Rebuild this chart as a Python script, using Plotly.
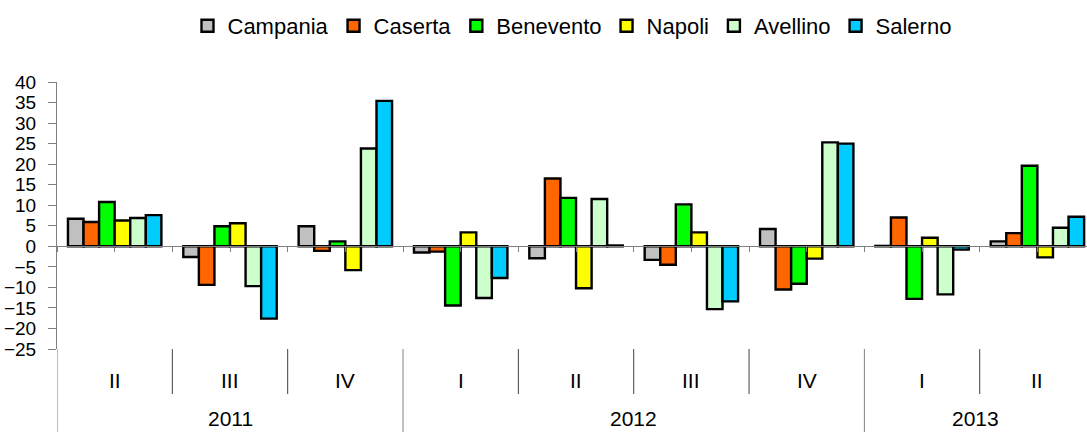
import plotly.graph_objects as go

# ---- data ----
quarters = ["II", "III", "IV", "I", "II", "III", "IV", "I", "II"]
years = ["2011", "2011", "2011", "2012", "2012", "2012", "2012", "2013", "2013"]

campania = [6.7, -2.6, 4.9, -1.5, -2.9, -3.3, 4.2, 0.1, 1.2]
caserta = [5.9, -9.4, -1.1, -1.3, 16.5, -4.5, -10.5, 7.0, 3.2]
benevento = [10.8, 4.9, 1.2, -14.4, 11.8, 10.2, -9.1, -12.8, 19.6]
napoli = [6.3, 5.6, -5.8, 3.4, -10.2, 3.4, -3.0, 2.1, -2.7]
avellino = [6.9, -9.7, 23.8, -12.6, 11.5, -15.3, 25.3, -11.7, 4.5]
salerno = [7.6, -17.6, 35.4, -7.7, 0.2, -13.4, 25.0, -0.8, 7.2]

series_names = ["Campania", "Caserta", "Benevento", "Napoli", "Avellino", "Salerno"]
series_values = [campania, caserta, benevento, napoli, avellino, salerno]
series_colors = ["#C0C0C0", "#FF6600", "#00FF00", "#FFFF00", "#CCFFCC", "#00CCFF"]

FONT = "Arial, Liberation Sans, sans-serif"
x_idx = list(range(len(quarters)))
hover_labels = [f"{q} {y}" for q, y in zip(quarters, years)]

Y_MIN, Y_MAX = -25, 40
X_MIN, X_MAX = -0.5, 8.43

fig = go.Figure()
for name, vals, col in zip(series_names, series_values, series_colors):
    fig.add_trace(go.Bar(
        x=x_idx, y=vals, name=name,
        marker=dict(color=col, line=dict(color="black", width=2.4)),
        hovertext=hover_labels,
    ))

# ---- category axis decorations (labels and dividers below the plot) ----
PLOT_H = 432 - 82 - 83
short_bottom = (349 - 394) / PLOT_H
full_bottom = -83 / PLOT_H
quarter_y = (349 - 380) / PLOT_H
year_y = (349 - 418) / PLOT_H

shapes = []
# left edge continuation of the axis
shapes.append(dict(type="line", xref="x", yref="paper", x0=X_MIN, x1=X_MIN,
                   y0=0, y1=full_bottom, line=dict(color="#808080", width=1)))
for i in range(len(quarters) - 1):
    b = i + 0.5
    if years[i] != years[i + 1]:
        shapes.append(dict(type="line", xref="x", yref="paper", x0=b, x1=b,
                           y0=0, y1=full_bottom, line=dict(color="#808080", width=1)))
    else:
        shapes.append(dict(type="line", xref="x", yref="paper", x0=b, x1=b,
                           y0=0, y1=short_bottom, line=dict(color="#404040", width=1)))

annotations = []
for i, q in enumerate(quarters):
    annotations.append(dict(x=i, y=quarter_y, xref="x", yref="paper", text=q,
                            showarrow=False, yanchor="middle",
                            font=dict(family=FONT, size=21, color="black")))
# year labels centred over their (visible) span
uniq_years = []
for y in years:
    if y not in uniq_years:
        uniq_years.append(y)
for yr in uniq_years:
    idx = [i for i, y in enumerate(years) if y == yr]
    lo = idx[0] - 0.5
    hi = min(idx[-1] + 0.5, X_MAX)
    annotations.append(dict(x=(lo + hi) / 2, y=year_y, xref="x", yref="paper", text=yr,
                            showarrow=False, yanchor="middle",
                            font=dict(family=FONT, size=21, color="black")))

fig.update_layout(
    width=1087, height=432, autosize=False,
    margin=dict(l=57, r=0, t=82, b=83, pad=0),
    paper_bgcolor="white", plot_bgcolor="white",
    font=dict(family=FONT, color="black"),
    barmode="group", bargap=0.19, bargroupgap=0,
    showlegend=True,
    legend=dict(orientation="h", x=0.5, xanchor="center",
                y=1 + (82 - 26) / PLOT_H, yanchor="middle",
                font=dict(family=FONT, size=22, color="black"),
                bgcolor="rgba(0,0,0,0)", traceorder="normal"),
    xaxis=dict(type="linear", range=[X_MIN, X_MAX], anchor="free",
               position=(0 - Y_MIN) / (Y_MAX - Y_MIN),
               showline=True, linecolor="#808080", linewidth=1,
               ticks="outside", ticklen=5, tickcolor="#808080",
               tick0=-0.5, dtick=0.5, showticklabels=False,
               showgrid=False, zeroline=False),
    yaxis=dict(range=[Y_MIN, Y_MAX], tick0=0, dtick=5,
               showline=True, linecolor="#808080", linewidth=1,
               ticks="outside", ticklen=8, tickcolor="#808080",
               showgrid=False, zeroline=False,
               tickfont=dict(family=FONT, size=19, color="black"),
               ticklabelstandoff=8),
    shapes=shapes, annotations=annotations,
)

fig.write_html("out.html", config={"displayModeBar": False},
               post_script="document.body.style.margin='0';")
